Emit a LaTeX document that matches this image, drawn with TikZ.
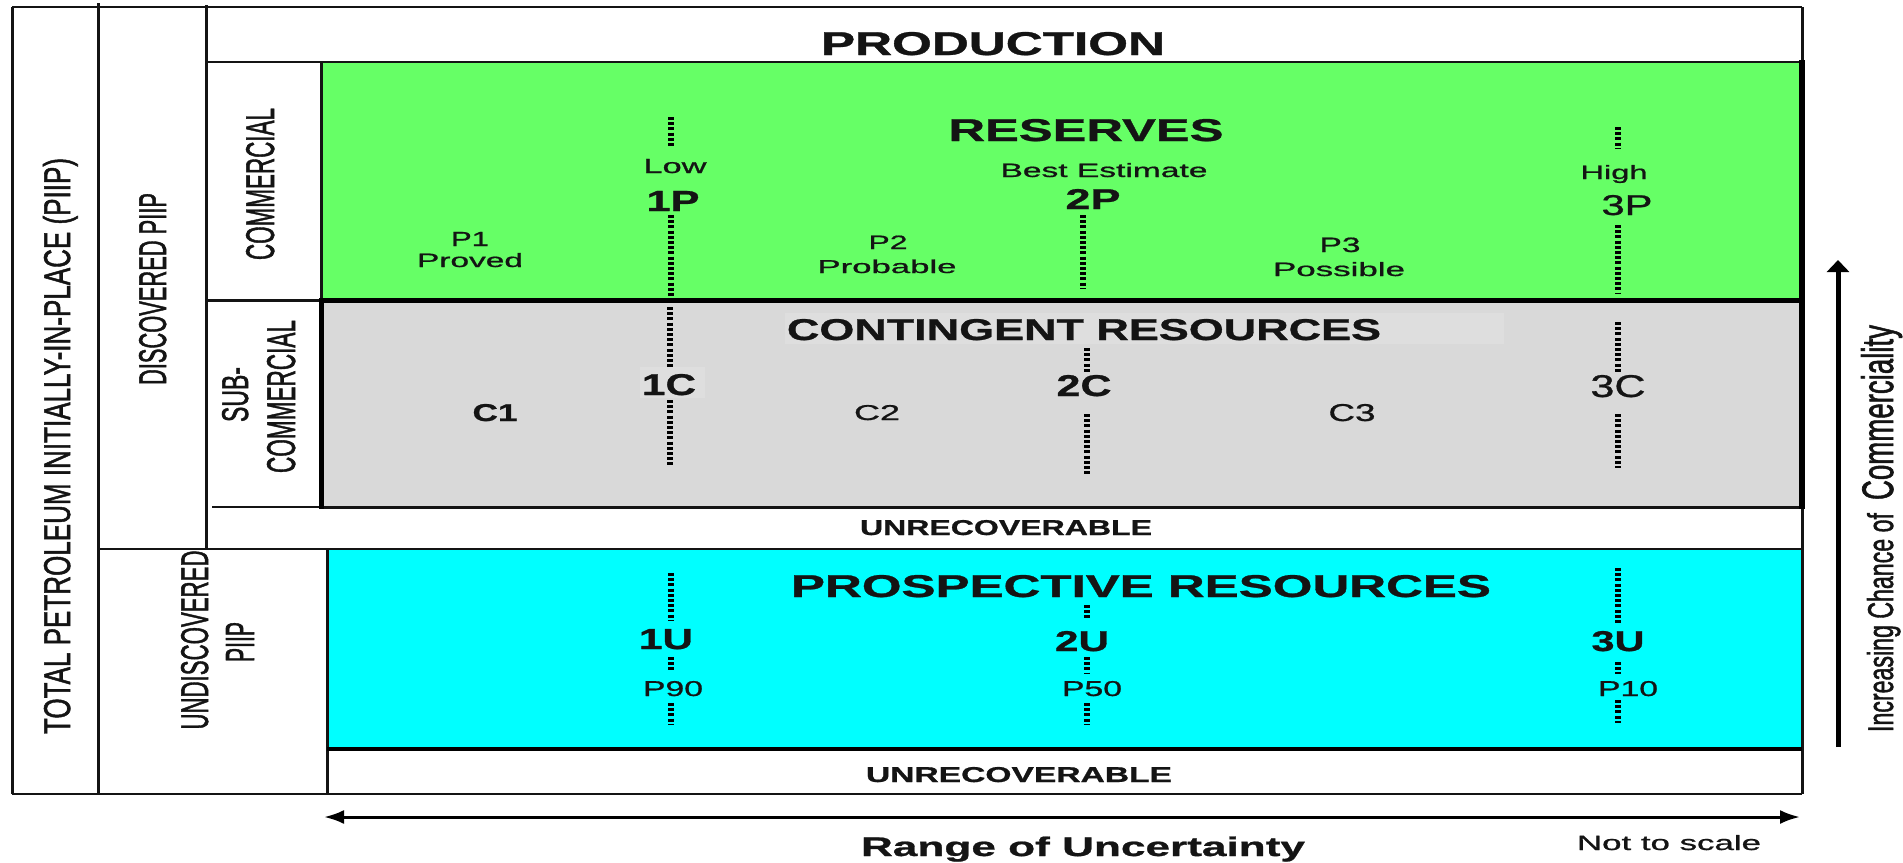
\documentclass[tikz,border=0pt]{standalone}
\usepackage{fontspec}
\setmainfont{Liberation Sans}
\newfontfamily\regf[FakeBold=0.8]{Liberation Sans}
\newfontfamily\rotf[FakeBold=1.6]{Liberation Sans}
\usepackage{graphicx}
\usetikzlibrary{arrows.meta}
\definecolor{resgreen}{RGB}{102,255,102}
\definecolor{contgrey}{RGB}{217,217,217}
\definecolor{lightgrey}{RGB}{222,222,222}
\definecolor{prospcyan}{RGB}{0,255,255}
\definecolor{ink}{RGB}{20,20,20}
\newcommand{\fitt}[3]{\resizebox{#1pt}{#2pt}{#3}}
\begin{document}
\begin{tikzpicture}[x=1pt,y=-1pt,
  lbl/.style={inner sep=0pt, anchor=base, text=ink, font=\regf},
  vlbl/.style={inner sep=0pt, anchor=base, rotate=90, text=ink, font=\rotf},
  hline/.style={line width=2pt, draw=ink},
  vline/.style={line width=3pt, draw=ink},
  dotl/.style={line width=6pt, draw=black, dash pattern=on 3pt off 2.2pt},
  uarrow/.style={line width=3pt, draw=black, {Latex[length=20pt,width=14pt]}-{Latex[length=20pt,width=14pt]}},
  carrow/.style={line width=5pt, draw=black, -{Triangle[length=12pt,width=22pt]}}
]
\useasboundingbox (0,0) rectangle (1903,862);
\fill[white] (0,0) rectangle (1903,862);

% ---- fills
\fill[resgreen] (321,62) rectangle (1802,300);
\fill[contgrey] (321,300) rectangle (1802,507);
\fill[prospcyan] (327,549) rectangle (1802,749);
\fill[lightgrey] (785,313) rectangle (1504,344);
\fill[lightgrey] (640,367) rectangle (705,398);

% ---- frame
\draw[hline] (12,7) -- (1802,7);
\draw[hline] (12,794) -- (1802,794);
\draw[vline] (12,7) -- (12,794);
\draw[vline] (98,3) -- (98,794);
\draw[vline] (206,5) -- (206,549);
\draw[vline] (1802,7) -- (1802,794);
\draw[hline, line width=2.5pt] (206,62) -- (1802,62);
\draw[hline] (98,549) -- (1802,549);
\draw[hline] (212,507) -- (321,507);
\draw[hline, line width=3pt] (321,507) -- (1802,507);
\draw[vline] (321,62) -- (321,300);
\draw[vline] (327,549) -- (327,794);
\draw[hline, line width=3pt] (206,300) -- (321,300);
\draw[line width=5pt] (319,300) -- (1802,300);
\draw[line width=5pt] (321,298) -- (321,509);
\draw[line width=6pt] (1802,60) -- (1802,509);
\draw[line width=3.5pt] (327,749) -- (1802,749);

% ---- dotted markers
\draw[dotl] (671,117) -- (671,147);
\draw[dotl] (671,215) -- (671,297);
\draw[dotl] (1083,215) -- (1083,288);
\draw[dotl] (1618,127) -- (1618,148);
\draw[dotl] (1618,225) -- (1618,293);
\draw[dotl] (670,307) -- (670,367);
\draw[dotl] (670,400) -- (670,467);
\draw[dotl] (1087,348) -- (1087,372);
\draw[dotl] (1087,414) -- (1087,476);
\draw[dotl] (1618,322) -- (1618,373);
\draw[dotl] (1618,414) -- (1618,468);
\draw[dotl] (671,573) -- (671,620);
\draw[dotl] (671,657) -- (671,672);
\draw[dotl] (671,703) -- (671,725);
\draw[dotl] (1087,605) -- (1087,620);
\draw[dotl] (1087,657) -- (1087,673);
\draw[dotl] (1087,703) -- (1087,725);
\draw[dotl] (1618,568) -- (1618,623);
\draw[dotl] (1618,662) -- (1618,674);
\draw[dotl] (1618,700) -- (1618,723);

% ---- horizontal labels
\node[lbl] (prod) at (993,55) {\fitt{344}{23}{\bfseries PRODUCTION}};
\node[lbl] (res) at (1086,141) {\fitt{275}{22}{\bfseries RESERVES}};
\node[lbl] (best) at (1104,177) {\fitt{207}{14}{Best Estimate}};
\node[lbl] (low) at (675,173) {\fitt{63}{14}{Low}};
\node[lbl] (high) at (1614,179) {\fitt{67}{14}{High}};
\node[lbl] (p1p) at (673,211) {\fitt{53}{20}{\bfseries 1P}};
\node[lbl] (p2p) at (1093,209) {\fitt{55}{20}{\bfseries 2P}};
\node[lbl] (p3p) at (1627,215) {\fitt{51}{20}{3P}};
\node[lbl] (p1) at (470,246) {\fitt{38}{14}{P1}};
\node[lbl] (proved) at (470,267) {\fitt{106}{14}{Proved}};
\node[lbl] (p2) at (888,249) {\fitt{39}{13.5}{P2}};
\node[lbl] (probable) at (887,273) {\fitt{139}{13.5}{Probable}};
\node[lbl] (p3) at (1340,252) {\fitt{41}{14.5}{P3}};
\node[lbl] (possible) at (1339,276) {\fitt{132}{14}{Possible}};
\node[lbl] (cont) at (1084,340) {\fitt{594}{21}{\bfseries CONTINGENT RESOURCES}};
\node[lbl] (c1c) at (669,395) {\fitt{54}{21}{\bfseries 1C}};
\node[lbl] (c2c) at (1084,396) {\fitt{55}{21}{\bfseries 2C}};
\node[lbl] (c3c) at (1618,397) {\fitt{55}{22}{3C}};
\node[lbl] (c1) at (495,421) {\fitt{45}{17}{\bfseries C1}};
\node[lbl] (c2) at (877,420) {\fitt{46}{15}{C2}};
\node[lbl] (c3) at (1352,421) {\fitt{47}{17}{C3}};
\node[lbl] (unrec1) at (1006,535) {\fitt{292}{15}{\bfseries UNRECOVERABLE}};
\node[lbl] (prosp) at (1141,597) {\fitt{700}{22}{\bfseries PROSPECTIVE RESOURCES}};
\node[lbl] (u1) at (666,649) {\fitt{54}{20}{\bfseries 1U}};
\node[lbl] (u2) at (1082,651) {\fitt{54}{20}{\bfseries 2U}};
\node[lbl] (u3) at (1618,651) {\fitt{53}{20}{\bfseries 3U}};
\node[lbl] (p90) at (673,696) {\fitt{60}{15}{P90}};
\node[lbl] (p50) at (1092,696) {\fitt{60}{15}{P50}};
\node[lbl] (p10) at (1628,696) {\fitt{60}{15}{P10}};
\node[lbl] (unrec2) at (1019,782) {\fitt{306}{15}{\bfseries UNRECOVERABLE}};
\node[lbl] (range) at (1083,856) {\fitt{444}{19.5}{\bfseries Range of Uncertainty}};
\node[lbl] (nts) at (1669,850) {\fitt{184}{15}{Not to scale}};

% ---- rotated labels
\node[vlbl] (total) at (70,446) {\fitt{576}{27}{TOTAL PETROLEUM INITIALLY-IN-PLACE (PIIP)}};
\node[vlbl] (disc) at (166,289) {\fitt{192}{27}{DISCOVERED PIIP}};
\node[vlbl] (comm) at (274,184) {\fitt{152}{28}{COMMERCIAL}};
\node[vlbl] (sub) at (248,394.5) {\fitt{55}{26}{SUB-}};
\node[vlbl] (subcomm) at (295,396.5) {\fitt{153}{28}{COMMERCIAL}};
\node[vlbl] (undisc) at (208,640) {\fitt{179}{27}{UNDISCOVERED}};
\node[vlbl] (piip) at (254,642) {\fitt{40}{28}{PIIP}};
\node[vlbl] (incr) at (1893,622.5) {\fitt{219}{26}{Increasing Chance of}};
\node[vlbl] (commerc) at (1893,412.5) {\fitt{175}{32}{Commerciality}};

% ---- arrows
\coordinate (uleft) at (324,817);
\coordinate (uright) at (1800,817);
\draw[uarrow] (uleft) -- (uright);
\coordinate (cbot) at (1838,747);
\coordinate (ctop) at (1838,260);
\draw[carrow] (cbot) -- (ctop);
\end{tikzpicture}
\end{document}
